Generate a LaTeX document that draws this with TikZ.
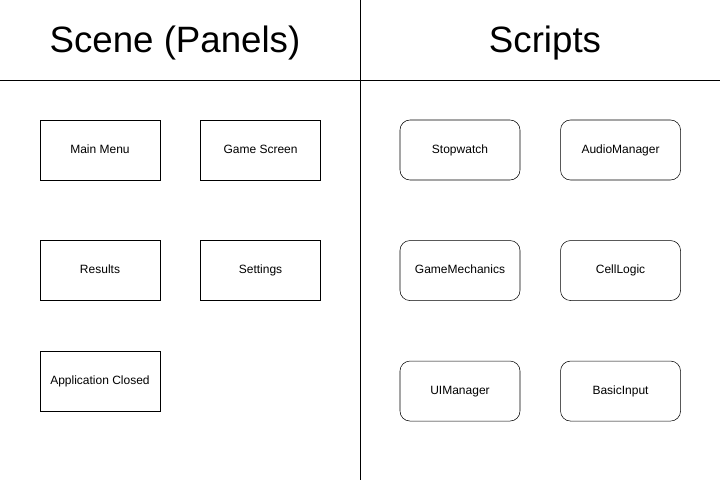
\documentclass[tikz,border=0pt]{standalone}
\usepackage{fontspec}
\setmainfont{Liberation Sans}
\usetikzlibrary{positioning}
\tikzstyle{panelRec} = [rectangle, minimum width=90pt, minimum height=45pt, inner sep=0pt, text height=6.5pt, text depth=1.5pt, text centered, draw=black, font=\fontsize{9}{11}\selectfont]
\tikzstyle{scriptRec} = [panelRec, rounded corners=7.5pt]
\tikzstyle{title} = [anchor=base, font=\fontsize{27.5}{32}\selectfont]

\begin{document}
\begin{tikzpicture}[x=0.75pt, y=-0.75pt]
		\useasboundingbox (0,0) rectangle (722,482);
		% dividing lines
		\draw (0,80) -- (720,80);
		\draw (360,0) -- (360,480);
		\node (sceneTitle) [title] at (175,52) {Scene (Panels)};
		\node (scriptTitle) [title] at (545,52) {Scripts};
		% panels
		\node (menu) [panelRec] at (100,150) {Main Menu};
		\node (game) [panelRec, right=30pt of menu] {Game Screen};
		\node (results) [panelRec, below=45pt of menu] {Results};
		\node (settings) [panelRec, below=45pt of game] {Settings};
		\node (closed) [panelRec, below=37.5pt of results] {Application Closed};
		% scripts
		\node (stopwatch) [scriptRec] at (460,150) {Stopwatch};
		\node (audio) [scriptRec, right=30pt of stopwatch] {AudioManager};
		\node (mechanics) [scriptRec, below=45pt of stopwatch] {GameMechanics};
		\node (cell) [scriptRec, below=45pt of audio] {CellLogic};
		\node (ui) [scriptRec, below=45pt of mechanics] {UIManager};
		\node (input) [scriptRec, below=45pt of cell] {BasicInput};
	\end{tikzpicture}
\end{document}
